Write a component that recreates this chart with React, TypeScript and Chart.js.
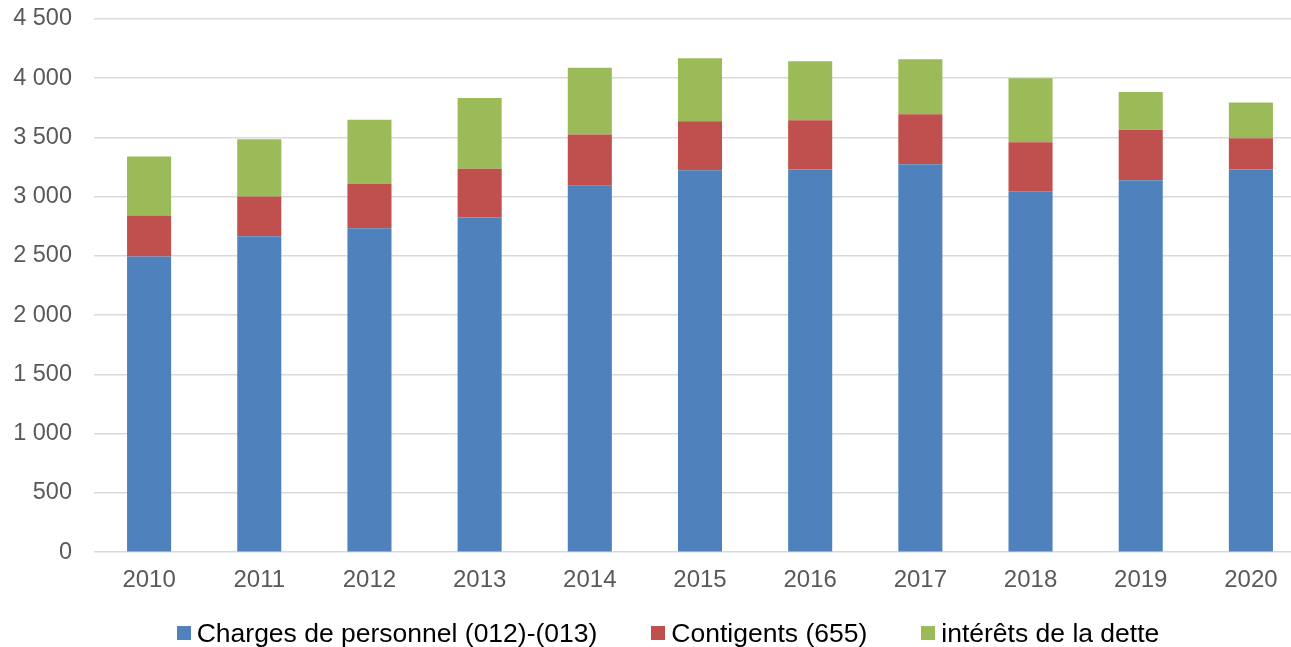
import React, { useEffect, useRef } from "react";
import { Chart, registerables } from "chart.js";

Chart.register(...registerables);

const categories = ["2010", "2011", "2012", "2013", "2014", "2015", "2016", "2017", "2018", "2019", "2020"];
const personnel = [2495, 2667, 2735, 2825, 3093, 3224, 3229, 3275, 3046, 3139, 3229];
const contingents = [347, 336, 375, 412, 432, 414, 417, 422, 414, 426, 265];
const interets = [497, 483, 540, 597, 563, 531, 498, 464, 540, 319, 301];
const seriesNames = ["Charges de personnel (012)-(013)", "Contigents (655)", "intérêts de la dette"];
const seriesColors = ["#4f81bd", "#c0504d", "#9bbb59"];
const yMin = 0;
const yMax = 4500;
const yStep = 500;

const FONT = "'Liberation Sans', Arial, sans-serif";

function formatThousands(v: number): string {
  const s = String(Math.round(v));
  return s.replace(/\B(?=(\d{3})+(?!\d))/g, " ");
}

export default function App() {
  const canvasRef = useRef<HTMLCanvasElement | null>(null);

  useEffect(() => {
    const canvas = canvasRef.current;
    if (!canvas) return;
    const values = [personnel, contingents, interets];
    const chart = new Chart(canvas, {
      type: "bar",
      data: {
        labels: categories,
        datasets: values.map((data, i) => ({
          label: seriesNames[i],
          data,
          backgroundColor: seriesColors[i],
          borderWidth: 0,
          barPercentage: 0.4,
          categoryPercentage: 1,
        })),
      },
      options: {
        animation: false,
        responsive: false,
        maintainAspectRatio: false,
        layout: { padding: { top: 19, left: 12, right: 0, bottom: 38 } },
        plugins: {
          legend: { display: false },
          tooltip: { enabled: false },
        },
        scales: {
          x: {
            stacked: true,
            grid: { display: false, drawTicks: false },
            border: { display: false },
            ticks: {
              color: "#595959",
              font: { family: FONT, size: 24 },
              padding: 14,
              maxRotation: 0,
            },
          },
          y: {
            stacked: true,
            min: yMin,
            max: yMax,
            afterFit: (scale: any) => {
              scale.width = 82;
              scale.paddingTop = 0;
              scale.paddingBottom = 0;
            },
            grid: { color: "#d9d9d9", lineWidth: 1.5, drawTicks: false },
            border: { display: false },
            ticks: {
              stepSize: yStep,
              color: "#595959",
              font: { family: FONT, size: 23.5 },
              padding: 22,
              callback: (v: any) => formatThousands(Number(v)),
            },
          },
        },
      },
    });
    return () => chart.destroy();
  }, []);

  return (
    <div style={{ position: "fixed", left: 0, top: 0, width: 1291, height: 647, overflow: "hidden", background: "#fff" }}>
      <canvas ref={canvasRef} width={1306} height={647} style={{ position: "absolute", left: 0, top: 0, width: 1306, height: 647 }} />
      <div
        style={{
          position: "absolute",
          left: 0,
          top: 618,
          width: 1336,
          display: "flex",
          justifyContent: "center",
          gap: 54,
          fontFamily: FONT,
          fontSize: 26.5,
          lineHeight: "30px",
          color: "#000",
          whiteSpace: "nowrap",
        }}
      >
        {seriesNames.map((name, i) => (
          <div key={name} style={{ display: "flex", alignItems: "center" }}>
            <span style={{ display: "inline-block", width: 14, height: 14, background: seriesColors[i], marginRight: 6 }} />
            <span>{name}</span>
          </div>
        ))}
      </div>
    </div>
  );
}
